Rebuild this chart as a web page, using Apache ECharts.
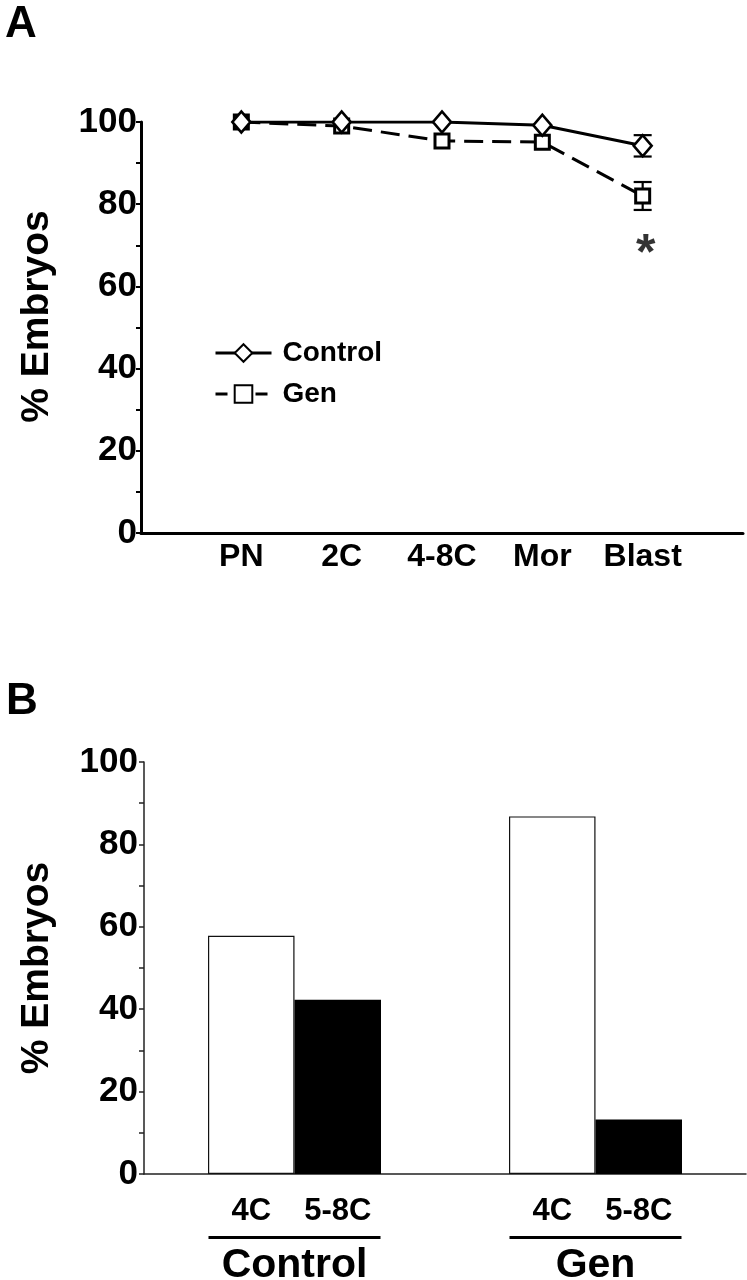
<!DOCTYPE html>
<html>
<head>
<meta charset="utf-8">
<script src="https://cdn.jsdelivr.net/npm/echarts@6/dist/echarts.min.js"></script>
<style>
html,body{margin:0;padding:0;background:#fff;}
#chart{width:747px;height:1280px;}
</style>
</head>
<body>
<div id="chart"></div>
<script>
// ---------- Panel A data ----------
var stagesA = ['PN', '2C', '4-8C', 'Mor', 'Blast'];
var controlA = [100, 100, 100, 99.2, 94.2];
var controlErrA = [0, 0, 0, 0, 2.6];
var genA = [100, 99, 95.4, 95.1, 82];
var genErrA = [0, 0, 0, 0, 3.4];
var yTicksA = [0, 20, 40, 60, 80, 100];
var asteriskA = [[5, 67.5]];

// ---------- Panel B data ----------
var groupsB = ['Control', 'Gen'];
var stage4C = [57.8, 86.8];
var stage58C = [42.3, 13.2];
var seriesNamesB = ['4C', '5-8C'];

var FONT = '"Liberation Sans", Arial, Helvetica, sans-serif';
var BLACK = '#000';

function pairs(vals) { return vals.map(function (v, i) { return [i + 1, v]; }); }
function errData(vals, errs) {
  return vals.map(function (v, i) { return [i + 1, v, errs[i]]; });
}
function errRender(params, api) {
  var x = api.value(0), y = api.value(1), e = api.value(2);
  if (!e) return null;
  var top = api.coord([x, y + e]);
  var bot = api.coord([x, y - e]);
  var hw = 9;
  var st = { stroke: BLACK, lineWidth: 2.2 };
  return {
    type: 'group',
    children: [
      { type: 'line', shape: { x1: top[0], y1: top[1], x2: bot[0], y2: bot[1] }, style: st },
      { type: 'line', shape: { x1: top[0] - hw, y1: top[1], x2: top[0] + hw, y2: top[1] }, style: st },
      { type: 'line', shape: { x1: bot[0] - hw, y1: bot[1], x2: bot[0] + hw, y2: bot[1] }, style: st }
    ]
  };
}

var chart = echarts.init(document.getElementById('chart'), null, { renderer: 'canvas' });

var option = {
  backgroundColor: '#fff',
  animation: false,
  textStyle: { fontFamily: FONT, color: BLACK },
  title: [
    { text: 'A', left: 0, top: -2, textStyle: { fontFamily: FONT, fontSize: 44, fontWeight: 'bold', color: BLACK } },
    { text: 'B', left: 1, top: 675, textStyle: { fontFamily: FONT, fontSize: 44, fontWeight: 'bold', color: BLACK } }
  ],
  legend: {
    data: [
      { name: 'Control', lineStyle: { width: 3, type: 'solid' } },
      { name: 'Gen', lineStyle: { width: 3, type: [12, 28] } }
    ],
    orient: 'vertical',
    left: 209,
    top: 334,
    itemWidth: 56,
    itemHeight: 22,
    itemGap: 13,
    textStyle: { fontFamily: FONT, fontSize: 28, fontWeight: 'bold', color: BLACK, padding: [0, 0, 0, 6] }
  },
  grid: [
    { left: 141, top: 122, width: 602, height: 411, containLabel: false, outerBoundsMode: 'none' },
    { left: 144, top: 762, width: 602, height: 412, containLabel: false, outerBoundsMode: 'none' }
  ],
  xAxis: [
    {
      gridIndex: 0, type: 'value', min: 0, max: 6, interval: 1,
      axisLine: { show: true, onZero: false, lineStyle: { color: BLACK, width: 3 } },
      axisTick: { show: false },
      splitLine: { show: false },
      axisLabel: {
        margin: 8, fontFamily: FONT, fontSize: 32, fontWeight: 'bold', color: BLACK,
        formatter: function (v) { return stagesA[v - 1] || ''; }
      }
    },
    {
      gridIndex: 1, type: 'category', data: groupsB, boundaryGap: true,
      axisLine: { show: true, lineStyle: { color: '#222', width: 1.5 } },
      axisTick: { show: false },
      splitLine: { show: false },
      axisLabel: {
        margin: 62, interval: 0,
        formatter: function (v) { return '{ln|}\n{g|' + v + '}'; },
        rich: {
          ln: { width: 172, height: 3, lineHeight: 3, backgroundColor: BLACK },
          g: { fontFamily: FONT, fontSize: 41, fontWeight: 'bold', color: BLACK, lineHeight: 54 }
        }
      }
    }
  ],
  yAxis: [
    {
      gridIndex: 0, type: 'value', min: 0, max: 100, interval: 20,
      name: '% Embryos', nameLocation: 'middle', nameGap: 84, nameRotate: 90,
      nameTextStyle: { fontFamily: FONT, fontSize: 39, fontWeight: 'bold', color: BLACK, padding: [0, 0, 0, 22] },
      axisLine: { show: true, lineStyle: { color: BLACK, width: 3 } },
      axisTick: { show: true, inside: false, length: 5, lineStyle: { color: BLACK, width: 2 } },
      minorTick: { show: true, splitNumber: 2, length: 5, lineStyle: { color: BLACK, width: 2 } },
      splitLine: { show: false },
      axisLabel: { margin: 4, fontFamily: FONT, fontSize: 35, fontWeight: 'bold', color: BLACK }
    },
    {
      gridIndex: 1, type: 'value', min: 0, max: 100, interval: 20,
      name: '% Embryos', nameLocation: 'middle', nameGap: 87, nameRotate: 90,
      nameTextStyle: { fontFamily: FONT, fontSize: 39, fontWeight: 'bold', color: BLACK },
      axisLine: { show: true, lineStyle: { color: '#222', width: 1.5 } },
      axisTick: { show: true, inside: false, length: 5, lineStyle: { color: '#222', width: 1.5 } },
      minorTick: { show: true, splitNumber: 2, length: 5, lineStyle: { color: '#222', width: 1.5 } },
      splitLine: { show: false },
      axisLabel: { margin: 6, fontFamily: FONT, fontSize: 35, fontWeight: 'bold', color: BLACK }
    }
  ],
  series: [
    {
      name: 'Control', type: 'line', xAxisIndex: 0, yAxisIndex: 0,
      data: pairs(controlA),
      symbol: 'diamond', symbolSize: [18, 21],
      lineStyle: { color: BLACK, width: 3, type: 'solid' },
      itemStyle: { color: '#fff', borderColor: BLACK, borderWidth: 2.6 },
      z: 4
    },
    {
      name: 'Gen', type: 'line', xAxisIndex: 0, yAxisIndex: 0,
      data: pairs(genA),
      symbol: 'rect', symbolSize: 14,
      lineStyle: { color: BLACK, width: 3, type: [19, 9] },
      itemStyle: { color: '#fff', borderColor: BLACK, borderWidth: 3 },
      z: 3
    },
    {
      name: 'errControl', type: 'custom', xAxisIndex: 0, yAxisIndex: 0,
      data: errData(controlA, controlErrA), renderItem: errRender, z: 2, clip: false
    },
    {
      name: 'errGen', type: 'custom', xAxisIndex: 0, yAxisIndex: 0,
      data: errData(genA, genErrA), renderItem: errRender, z: 2, clip: false
    },
    {
      name: 'sig', type: 'scatter', xAxisIndex: 0, yAxisIndex: 0,
      data: asteriskA, symbolSize: 1, itemStyle: { color: 'rgba(0,0,0,0)' },
      label: { show: true, position: 'inside', offset: [3, 0], formatter: '*', fontFamily: FONT, fontSize: 50, fontWeight: 'bold', color: BLACK }
    },
    {
      name: seriesNamesB[0], type: 'bar', xAxisIndex: 1, yAxisIndex: 1,
      data: stage4C, barWidth: 86.5, barGap: '0%',
      itemStyle: { color: '#fff', borderColor: '#111', borderWidth: 1.2 },
      label: { show: true, position: 'bottom', distance: 22, formatter: function (p) { return p.seriesName; },
        fontFamily: FONT, fontSize: 31, fontWeight: 'bold', color: BLACK }
    },
    {
      name: seriesNamesB[1], type: 'bar', xAxisIndex: 1, yAxisIndex: 1,
      data: stage58C, barWidth: 86.5, barGap: '0%',
      itemStyle: { color: BLACK, borderColor: BLACK, borderWidth: 0 },
      label: { show: true, position: 'bottom', distance: 22, formatter: function (p) { return p.seriesName; },
        fontFamily: FONT, fontSize: 31, fontWeight: 'bold', color: BLACK }
    }
  ]
};
chart.setOption(option);
</script>
</body>
</html>
